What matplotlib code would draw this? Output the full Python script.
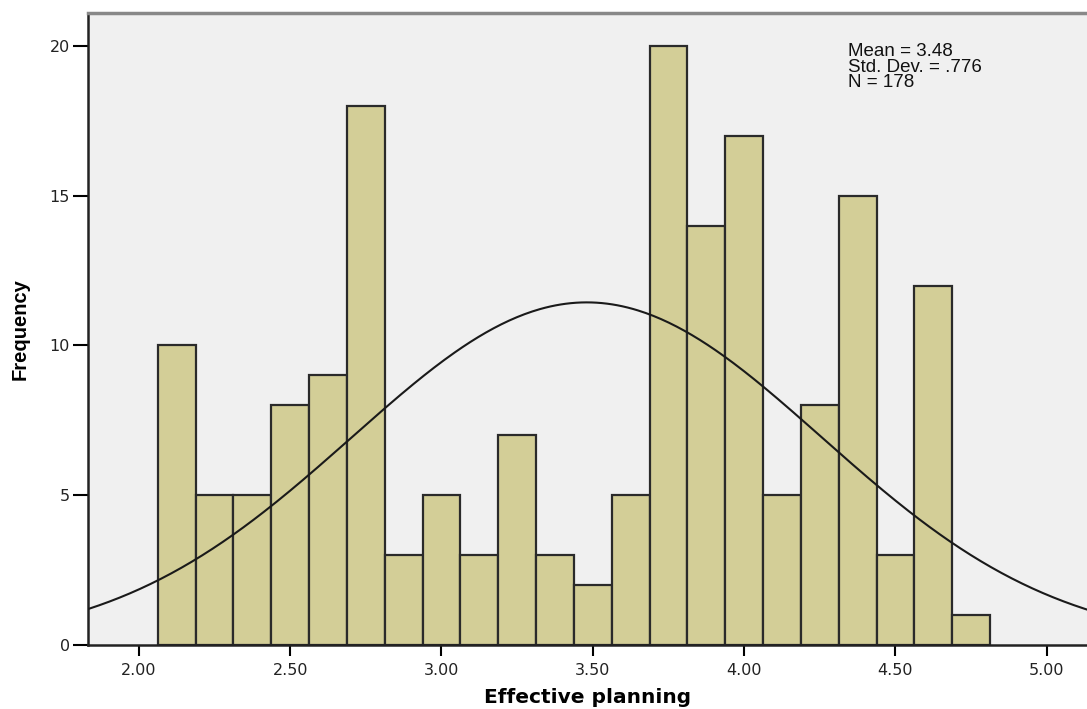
import numpy as np
import matplotlib.pyplot as plt

# histogram of Effective planning (SPSS style), 22 bins of width .125
bin_edges = [2.0625 + 0.125 * i for i in range(23)]
counts = [10, 5, 5, 8, 9, 18, 3, 5, 3, 7, 3, 2, 5, 20, 14, 17, 5, 8, 15, 3, 12, 1]
mean = 3.48
std = 0.776
n = 178
x_ticks = [2.0, 2.5, 3.0, 3.5, 4.0, 4.5, 5.0]
y_ticks = [0, 5, 10, 15, 20]

plt.rcParams['font.family'] = 'DejaVu Sans'

fig = plt.figure(figsize=(10.87, 7.09), dpi=100)
ax = fig.add_axes([88 / 1087, 1 - 645 / 709, 1 - 88 / 1087, (645 - 13) / 709])
ax.set_facecolor('#f0f0f0')

widths = np.diff(bin_edges)
ax.bar(bin_edges[:-1], counts, width=widths, align='edge',
       color='#d3ce97', edgecolor='#2a2a2a', linewidth=1.6, zorder=2)

# normal curve scaled to counts
xs = np.linspace(1.8, 5.2, 400)
bw = bin_edges[1] - bin_edges[0]
ys = n * bw / (std * np.sqrt(2 * np.pi)) * np.exp(-0.5 * ((xs - mean) / std) ** 2)
ax.plot(xs, ys, color='#1a1a1a', linewidth=1.5, zorder=3)

ax.set_xlim(1.832, 5.133)
ax.set_ylim(0, 21.1)
ax.set_xticks(x_ticks)
ax.set_xticklabels(['%.2f' % t for t in x_ticks], fontsize=11.5, color='#222222')
ax.set_yticks(y_ticks)
ax.set_yticklabels([str(t) for t in y_ticks], fontsize=11.5, color='#222222')
ax.tick_params(axis='x', length=8, width=1.5, direction='out', pad=5)
ax.tick_params(axis='y', length=11, width=1.5, direction='out', pad=2)

ax.spines['right'].set_visible(False)
ax.spines['top'].set_color('#888888')
ax.spines['top'].set_linewidth(2.5)
ax.spines['left'].set_color('#222222')
ax.spines['left'].set_linewidth(1.8)
ax.spines['bottom'].set_color('#222222')
ax.spines['bottom'].set_linewidth(1.8)

ax.set_xlabel('Effective planning', fontsize=14.5, fontweight='bold')
ax.xaxis.set_label_coords(0.5, -43 / 632)
ax.set_ylabel('Frequency', fontsize=14.5, fontweight='bold', family='Liberation Sans')
ax.yaxis.set_label_coords(-58 / 999, 0.5)

ax.text(0.761, 0.952, 'Mean = 3.48\nStd. Dev. = .776\nN = 178', transform=ax.transAxes,
        fontsize=13.5, family='Liberation Sans', va='top', ha='left',
        linespacing=0.86, color='#111111')

plt.savefig('out.png', dpi=100)
